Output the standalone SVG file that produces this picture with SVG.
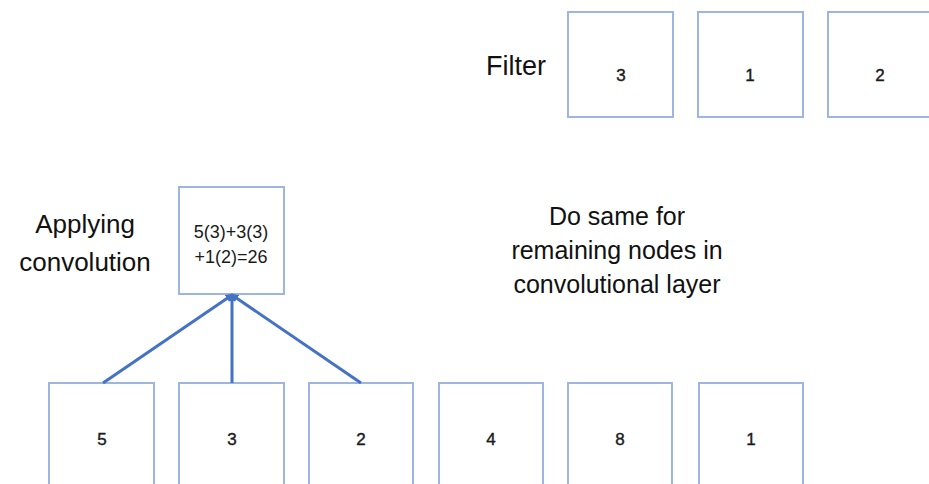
<svg xmlns="http://www.w3.org/2000/svg" width="929" height="484" viewBox="0 0 929 484">
<style>
.box{fill:#fff;stroke:#9DB5E0;stroke-width:2}
.num{font-family:"Liberation Sans",Arial,sans-serif;font-size:17px;fill:#1a1a1a;stroke:#1a1a1a;stroke-width:0.4;text-anchor:middle}
.lbl{font-family:"Liberation Sans",Arial,sans-serif;font-size:26px;fill:#111;text-anchor:middle}
.note{font-family:"Liberation Sans",Arial,sans-serif;font-size:25px;fill:#111;text-anchor:middle}
.eq{font-family:"Liberation Sans",Arial,sans-serif;font-size:18px;fill:#1a1a1a;text-anchor:middle}
.edge{stroke:#4472C4;stroke-width:3;fill:none}
</style>
<defs>
<marker id="arr" markerWidth="8" markerHeight="8" refX="6" refY="4" orient="auto" markerUnits="userSpaceOnUse">
<path d="M0,0 L8,4 L0,8 z" fill="#4472C4"/>
</marker>
</defs>
<rect width="929" height="484" fill="#fff"/>
<g id="filter-label"><text class="lbl" x="516" y="75" style="font-size:27px">Filter</text></g>
<g id="f1"><rect class="box" x="568" y="12" width="105" height="105"/><text class="num" x="621" y="81">3</text></g>
<g id="f2"><rect class="box" x="698" y="12" width="105" height="105"/><text class="num" x="750" y="81">1</text></g>
<g id="f3"><rect class="box" x="828" y="12" width="105" height="105"/><text class="num" x="880" y="81">2</text></g>
<g id="apply-label"><text class="lbl" x="85" y="233">Applying</text><text class="lbl" x="85" y="271">convolution</text></g>
<g id="conv"><rect class="box" x="179" y="187" width="105" height="107"/><text class="eq" x="231" y="238">5(3)+3(3)</text><text class="eq" x="231" y="263">+1(2)=26</text></g>
<g id="note"><text class="note" x="617" y="225">Do same for</text><text class="note" x="617" y="259">remaining nodes in</text><text class="note" x="617" y="293">convolutional layer</text></g>
<g id="i1"><rect class="box" x="49" y="383" width="105" height="110"/><text class="num" x="102" y="445">5</text></g>
<g id="i2"><rect class="box" x="179" y="383" width="105" height="110"/><text class="num" x="232" y="445">3</text></g>
<g id="i3"><rect class="box" x="309" y="383" width="104" height="110"/><text class="num" x="361" y="445">2</text></g>
<g id="i4"><rect class="box" x="439" y="383" width="104" height="110"/><text class="num" x="491" y="445">4</text></g>
<g id="i5"><rect class="box" x="568" y="383" width="104" height="110"/><text class="num" x="620" y="445">8</text></g>
<g id="i6"><rect class="box" x="699" y="383" width="104" height="110"/><text class="num" x="751" y="445">1</text></g>
<g id="connectors">
<line class="edge" x1="103" y1="383" x2="232" y2="295" marker-end="url(#arr)"/>
<line class="edge" x1="232" y1="383" x2="232" y2="295" marker-end="url(#arr)"/>
<line class="edge" x1="361" y1="383" x2="232" y2="295" marker-end="url(#arr)"/>
</g>
</svg>
